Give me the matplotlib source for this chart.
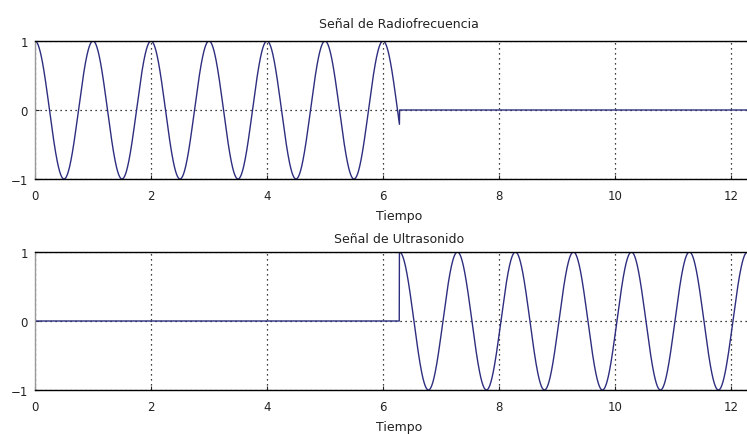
import numpy as np
import matplotlib
matplotlib.use("Agg")
import matplotlib.pyplot as plt

# Signal description
titles = ["Señal de Radiofrecuencia", "Señal de Ultrasonido"]
xlabel = "Tiempo"
frequency = 1.0            # cycles per unit time
amplitude = 1.0
burst_length = 2 * np.pi   # duration of each burst
total_length = 4 * np.pi   # full time window
burst_starts = [0.0, 2 * np.pi]
xticks = [0, 2, 4, 6, 8, 10, 12]
yticks = [-1, 0, 1]

t = np.linspace(0, total_length, 4001)

def burst(start):
    y = np.zeros_like(t)
    m = (t >= start) & (t <= start + burst_length)
    y[m] = amplitude * np.cos(2 * np.pi * frequency * (t[m] - start))
    return y

W, H = 747, 435
fig = plt.figure(figsize=(W / 100, H / 100), dpi=100)
plt.rcParams['font.family'] = ['DejaVu Sans']

left_px = 35
px_per_unit = 58.0
width_px = total_length * px_per_unit
axes_px = [(42, 180), (253, 391)]  # (top, bottom) pixel rows
title_pads = [10, 7]

line_color = '#2e2e80'
text_color = '#222222'
for i, (top, bot) in enumerate(axes_px):
    ax = fig.add_axes([left_px / W, 1 - bot / H, width_px / W, (bot - top) / H])
    ax.plot(t, burst(burst_starts[i]), color=line_color, lw=1.0)
    ax.set_xlim(0, total_length)
    ax.set_ylim(-1, 1)
    ax.set_xticks(xticks)
    ax.set_yticks(yticks)
    ax.grid(True, linestyle=(0, (1, 3)), color='black', lw=0.9)
    ax.tick_params(labelsize=8.5, length=3, direction='in', colors=text_color)
    ax.tick_params(axis='x', pad=7)
    ax.tick_params(axis='y', pad=5)
    ax.set_title(titles[i], fontsize=9, pad=title_pads[i], color=text_color)
    ax.set_xlabel(xlabel, fontsize=9, labelpad=5, color=text_color)
    for s in ax.spines.values():
        s.set_linewidth(1.0)
    ax.spines['left'].set_color('#999999')

fig.savefig("out.png", dpi=100)
